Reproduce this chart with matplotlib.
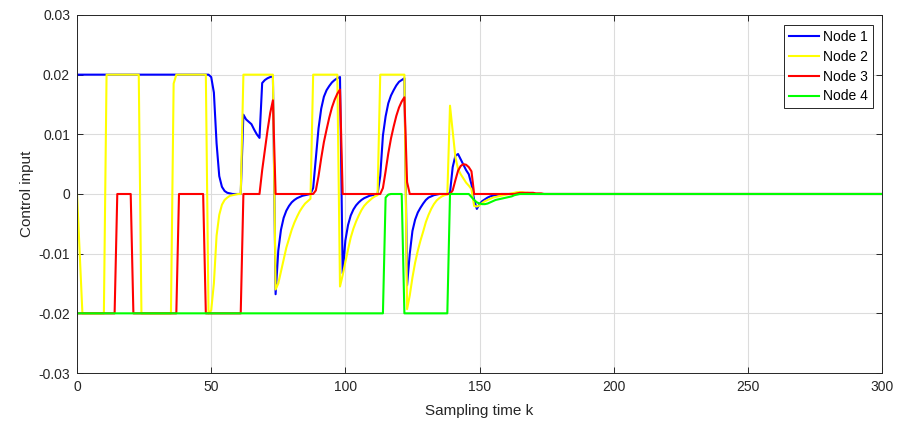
import numpy as np
import matplotlib
matplotlib.use("Agg")
import matplotlib.pyplot as plt
from matplotlib.ticker import FuncFormatter

# sampling instants k = 0 .. 300
K_END = 300

# control input of each node, one value per sampling instant
node1 = ([0.02] * 50
         + [0.0196, 0.0170, 0.0085, 0.0030, 0.0012, 0.0005, 0.0002, 0.0001]
         + [0.0] * 4
         + [0.0133, 0.0125, 0.0121, 0.0117, 0.0108, 0.0100, 0.0094,
            0.0186, 0.0191, 0.0194, 0.0196, 0.0197]
         + [-0.0168, -0.0095, -0.0060, -0.0040, -0.0028, -0.0020, -0.0014,
            -0.0010, -0.0007, -0.0005, -0.0003, -0.0002, -0.0001, 0.0]
         + [0.0010, 0.0060, 0.0110, 0.0143, 0.0163, 0.0174, 0.0181, 0.0187,
            0.0191, 0.0194, 0.0196]
         + [-0.0133, -0.0078, -0.0052, -0.0036, -0.0026, -0.0019, -0.0014,
            -0.0010, -0.0007, -0.0005, -0.0003, -0.0002, -0.0001, 0.0]
         + [0.0030, 0.0098, 0.0130, 0.0152, 0.0165, 0.0174, 0.0182, 0.0188,
            0.0191, 0.0194]
         + [-0.0153, -0.0100, -0.0062, -0.0043, -0.0031, -0.0023, -0.0016,
            -0.0010, -0.0006, -0.0004, -0.0002, -0.0001, 0.0, 0.0, 0.0, 0.0]
         + [0.0002, 0.0045, 0.0064, 0.0067, 0.0058, 0.0049, 0.0040, 0.0033,
            0.0016, -0.0010, -0.0025, -0.0017, -0.0012, -0.0009, -0.0006,
            -0.0004, -0.0003, -0.0002, -0.0001, 0.0]
         + [0.0] * 142)

node2 = ([0.0, -0.010]
         + [-0.02] * 9
         + [0.02] * 13
         + [-0.02] * 12
         + [0.0185]
         + [0.02] * 12
         + [-0.0200, -0.0195, -0.0150, -0.0070, -0.0035, -0.0018, -0.0010,
            -0.0006, -0.0003, -0.0002, -0.0001, 0.0, 0.0]
         + [0.02] * 12
         + [-0.0160, -0.0150, -0.0130, -0.0110, -0.0090, -0.0075, -0.0060,
            -0.0048, -0.0038, -0.0029, -0.0022, -0.0016, -0.0012, -0.0008]
         + [0.02] * 10
         + [-0.0155, -0.0136, -0.0114, -0.0093, -0.0073, -0.0058, -0.0046,
            -0.0036, -0.0027, -0.0020, -0.0015, -0.0011, -0.0007, -0.0004,
            -0.0002]
         + [0.02] * 10
         + [-0.0193, -0.0170, -0.0140, -0.0115, -0.0095, -0.0078, -0.0063,
            -0.0047, -0.0035, -0.0025, -0.0017, -0.0011, -0.0007, -0.0004,
            -0.0002, -0.0001]
         + [0.0148, 0.0105, 0.0062, 0.0042, 0.0033, 0.0026, 0.0019, 0.0014,
            0.0008, -0.0020, -0.0021, -0.0019, -0.0015, -0.0012, -0.0010,
            -0.0008, -0.0006, -0.0005, -0.0004, -0.0003, -0.0002, -0.0001,
            0.0, 0.0001, 0.0002, 0.0003, 0.0003, 0.0003, 0.0002, 0.0002,
            0.0001, 0.0001, 0.0]
         + [0.0] * 129)

node3 = ([-0.02] * 15
         + [0.0] * 6
         + [-0.02] * 17
         + [0.0] * 10
         + [-0.02] * 14
         + [0.0] * 7
         + [0.0040, 0.0074, 0.0107, 0.0136, 0.0157]
         + [0.0] * 15
         + [0.0006, 0.0030, 0.0060, 0.0087, 0.0108, 0.0128, 0.0145, 0.0158,
            0.0168, 0.0175]
         + [0.0] * 15
         + [0.0010, 0.0038, 0.0068, 0.0093, 0.0113, 0.0131, 0.0145, 0.0155,
            0.0162, 0.0020]
         + [0.0] * 16
         + [0.0006, 0.0023, 0.0039, 0.0047, 0.0050, 0.0049, 0.0045, 0.0038]
         + [0.0] * 16
         + [0.0001, 0.0002, 0.0002, 0.0002, 0.0002, 0.0002, 0.0002, 0.0001,
            0.0001, 0.0001]
         + [0.0] * 127)

node4 = ([-0.02] * 115
         + [-0.0006, -0.0001, 0.0, 0.0, 0.0, 0.0, 0.0]
         + [-0.02] * 17
         + [0.0] * 8
         + [-0.0005, -0.0010, -0.0014, -0.0016, -0.0017, -0.0017, -0.0016,
            -0.0014, -0.0012, -0.0010, -0.0009, -0.0008, -0.0007, -0.0006,
            -0.0005, -0.0004, -0.0002, -0.0001]
         + [0.0] * 136)

labels = ['Node 1', 'Node 2', 'Node 3', 'Node 4']
colors = ['#0000ff', '#ffff00', '#ff0000', '#00ff00']

x_ticks = [0, 50, 100, 150, 200, 250, 300]
y_ticks = [-0.03, -0.02, -0.01, 0, 0.01, 0.02, 0.03]


def tick_fmt(v, pos):
    if abs(v) < 1e-12:
        return '0'
    return f'{v:.2f}'


def plot_figure():
    plt.rcParams['font.family'] = ['Liberation Sans', 'DejaVu Sans']
    plt.rcParams['axes.unicode_minus'] = False

    k = np.arange(K_END + 1)
    series = [node1, node2, node3, node4]

    fig = plt.figure(figsize=(9.0, 4.28), dpi=100)
    ax = fig.add_subplot(111)
    fig.subplots_adjust(left=0.0856, bottom=0.1285, right=0.98, top=0.965)

    for y, c, lab in zip(series, colors, labels):
        ax.plot(k, y, color=c, linewidth=1.5, label=lab)

    ax.set_xlim(0, 300)
    ax.set_ylim(-0.03, 0.03)
    ax.set_xticks(x_ticks)
    ax.set_yticks(y_ticks)
    ax.yaxis.set_major_formatter(FuncFormatter(tick_fmt))

    axis_col = '#262626'
    ax.grid(True, color='#dcdcdc', linewidth=0.8)
    ax.set_axisbelow(True)
    ax.tick_params(direction='in', top=True, right=True, length=4.5,
                   width=0.7, colors=axis_col, labelsize=10, pad=5)
    for sp in ax.spines.values():
        sp.set_color(axis_col)
        sp.set_linewidth(0.7)

    ax.set_xlabel('Sampling time k', fontsize=11, color=axis_col, labelpad=7)
    ax.set_ylabel('Control input', fontsize=11, color=axis_col, labelpad=3)

    leg = ax.legend(loc='upper right', bbox_to_anchor=(0.989, 0.972),
                    fontsize=10, fancybox=False, framealpha=1,
                    edgecolor=axis_col, handlelength=2.2, handletextpad=0.3,
                    labelspacing=0.42, borderpad=0.35, borderaxespad=0)
    leg.get_frame().set_linewidth(0.7)

    fig.savefig('out.png', dpi=100)


if __name__ == '__main__':
    plot_figure()
